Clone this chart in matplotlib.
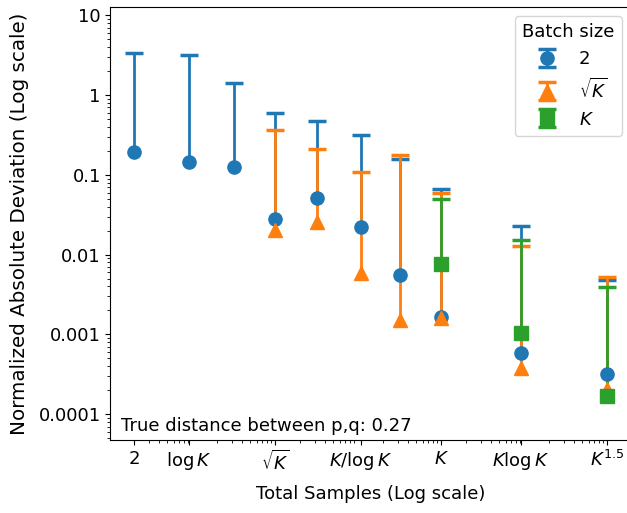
import numpy as np
import matplotlib
matplotlib.use("Agg")
import matplotlib.pyplot as plt

# ================= DATA =================
K = 10000
x_tick_vals = [2, np.log(K), np.sqrt(K), K / np.log(K), K, K * np.log(K), K ** 1.5]
x_tick_labels = ["2", r"$\log K$", r"$\sqrt{K}$", r"$K/\log K$", r"$K$", r"$K\log K$", r"$K^{1.5}$"]

# batch size 2
x_b2 = [2, np.log(K), K ** 0.375, np.sqrt(K), K ** 0.625, K / np.log(K), K ** 0.875, K, K * np.log(K), K ** 1.5]
mid_b2 = [0.195, 0.143, 0.126, 0.0277, 0.0516, 0.022, 0.0055, 0.00164, 0.00059, 0.00032]
top_b2 = [3.35, 3.2, 1.4, 0.59, 0.48, 0.315, 0.159, 0.067, 0.0226, 0.0048]

# batch size sqrt(K)
x_bs = [np.sqrt(K), K ** 0.625, K / np.log(K), K ** 0.875, K, K * np.log(K), K ** 1.5]
mid_bs = [0.0205, 0.026, 0.0059, 0.0015, 0.0016, 0.00038, 0.00021]
top_bs = [0.364, 0.209, 0.109, 0.177, 0.059, 0.0129, 0.0052]

# batch size K
x_bk = [K, K * np.log(K), K ** 1.5]
mid_bk = [0.0076, 0.00105, 0.00017]
top_bk = [0.050, 0.0154, 0.0039]

series = [
    (x_b2, mid_b2, top_b2, "o", "2"),
    (x_bs, mid_bs, top_bs, "^", r"$\sqrt{K}$"),
    (x_bk, mid_bk, top_bk, "s", r"$K$"),
]

# ================= PLOT =================
plt.rcParams["font.size"] = 13
fig = plt.figure(figsize=(6.27, 5.13), dpi=100)
ax = fig.add_axes([0.1762, 0.1423, 0.8295, 0.844])

for i, (xs, mids, tops, mk, lab) in enumerate(series):
    mids = np.array(mids)
    upper = np.array(tops) - mids
    eb = ax.errorbar(xs, mids, yerr=[np.zeros_like(mids), upper], fmt=mk, color=f"C{i}",
                     markersize=9.5, capsize=6.5, elinewidth=2, capthick=2.5, label=lab)
    # only the upper cap is drawn (lower cap sits under the marker)
    eb.lines[1][0].remove()

ax.set_xscale("log")
ax.set_yscale("log")
ax.set_ylim(4.75e-5, 12.7)
ax.set_xticks(x_tick_vals, x_tick_labels)
y_ticks = [10, 1, 0.1, 0.01, 0.001, 0.0001]
ax.set_yticks(y_ticks, ["10", "1", "0.1", "0.01", "0.001", "0.0001"])

ax.set_xlabel("Total Samples (Log scale)", labelpad=8)
ax.set_ylabel("Normalized Absolute Deviation (Log scale)", fontsize=14.3, labelpad=7)
ax.text(0.02, 0.02, "True distance between p,q: 0.27", transform=ax.transAxes)
ax.legend(title="Batch size", loc="upper right")

fig.savefig("out.png", dpi=100)
